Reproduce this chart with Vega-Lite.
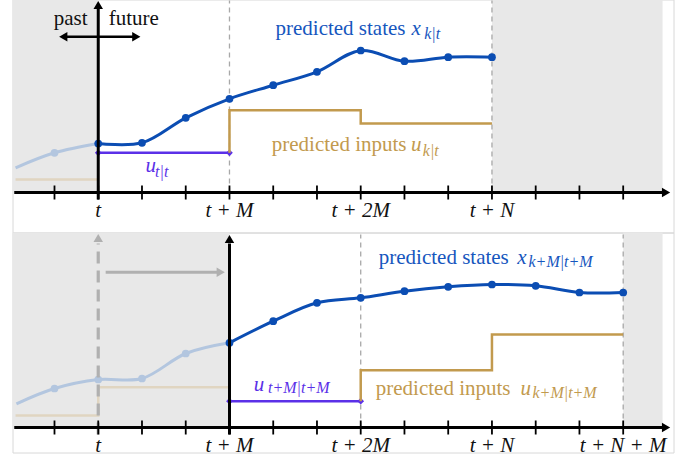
{
  "$schema": "https://vega.github.io/schema/vega-lite/v6.json",
  "padding": {"left": 8.5, "top": -1.5, "right": 0, "bottom": 0},
  "background": "white",
  "spacing": 0,
  "bounds": "flush",
  "config": {"view": {"stroke": "#d8d8d8", "strokeWidth": 1}, "axis": {"disable": true}},
  "resolve": {"scale": {"x": "independent", "y": "independent"}},
  "datasets": {
    "labTop": [
      {"x": -0.633, "y": 167.3, "text": "past", "kind": "rc", "role": "axis"},
      {"x": 0.814, "y": 167.3, "text": "future", "kind": "rc", "role": "axis"},
      {"x": 7.024, "y": 158, "text": "predicted states", "kind": "rr", "role": "state"},
      {"x": 7.16, "y": 158, "text": "x", "kind": "m", "role": "state"},
      {"x": 7.45, "y": 153.7, "text": "k|t", "kind": "s", "role": "state"},
      {"x": 7.047, "y": 41.3, "text": "predicted inputs", "kind": "rr", "role": "input"},
      {"x": 7.15, "y": 41.3, "text": "u", "kind": "m", "role": "input"},
      {"x": 7.42, "y": 37, "text": "k|t", "kind": "s", "role": "input"},
      {"x": 1.081, "y": 20.7, "text": "u", "kind": "m", "role": "control"},
      {"x": 1.3, "y": 15.7, "text": "t|t", "kind": "s", "role": "control"},
      {"x": 0, "y": -24, "text": "t", "kind": "tk", "role": "axis"},
      {"x": 3, "y": -24, "text": "t + M", "kind": "tk", "role": "axis"},
      {"x": 6, "y": -24, "text": "t + 2M", "kind": "tk", "role": "axis"},
      {"x": 9, "y": -24, "text": "t + N", "kind": "tk", "role": "axis"}
    ],
    "labBot": [
      {"x": 9.385, "y": 163.7, "text": "predicted states", "kind": "rr", "role": "state"},
      {"x": 9.577, "y": 163.7, "text": "x", "kind": "m", "role": "state"},
      {"x": 9.835, "y": 160.3, "text": "k+M|t+M", "kind": "s", "role": "state"},
      {"x": 9.424, "y": 33, "text": "predicted inputs", "kind": "rr", "role": "input"},
      {"x": 9.653, "y": 33, "text": "u", "kind": "m", "role": "input"},
      {"x": 9.927, "y": 29.7, "text": "k+M|t+M", "kind": "s", "role": "input"},
      {"x": 3.557, "y": 36.3, "text": "u", "kind": "m", "role": "control"},
      {"x": 3.88, "y": 34.5, "text": "t+M|t+M", "kind": "s", "role": "control"},
      {"x": 0, "y": -24, "text": "t", "kind": "tk", "role": "axis"},
      {"x": 3, "y": -24, "text": "t + M", "kind": "tk", "role": "axis"},
      {"x": 6, "y": -24, "text": "t + 2M", "kind": "tk", "role": "axis"},
      {"x": 9, "y": -24, "text": "t + N", "kind": "tk", "role": "axis"},
      {"x": 12, "y": -24, "text": "t + N + M", "kind": "tk", "role": "axis"}
    ],
    "ticks": [
      {"x": -1, "y": -7, "y2": 7}, {"x": 0, "y": -7, "y2": 7}, {"x": 1, "y": -7, "y2": 7},
      {"x": 2, "y": -7, "y2": 7}, {"x": 3, "y": -7, "y2": 7}, {"x": 4, "y": -7, "y2": 7},
      {"x": 5, "y": -7, "y2": 7}, {"x": 6, "y": -7, "y2": 7}, {"x": 7, "y": -7, "y2": 7},
      {"x": 8, "y": -7, "y2": 7}, {"x": 9, "y": -7, "y2": 7}, {"x": 10, "y": -7, "y2": 7},
      {"x": 11, "y": -7, "y2": 7}, {"x": 12, "y": -7, "y2": 7}
    ]
  },
  "vconcat": [
    {
      "width": 661,
      "height": 233,
      "encoding": {
        "x": {"field": "x", "type": "quantitative", "scale": {"domain": [-1.96, 13.15], "nice": false, "zero": false}},
        "y": {"field": "y", "type": "quantitative", "scale": {"domain": [-40, 193], "nice": false, "zero": false}}
      },
      "layer": [
        {"data": {"values": [{"x": -1.96, "x2": 0, "y": 0, "y2": 193}, {"x": 9, "x2": 12.9, "y": 0, "y2": 193}]},
         "mark": {"type": "rect", "color": "#e8e8e8"},
         "encoding": {"x2": {"field": "x2"}, "y2": {"field": "y2"}}},
        {"data": {"values": [{"x": 3, "y": 0, "y2": 192}, {"x": 9, "y": 0, "y2": 192}]},
         "mark": {"type": "rule", "color": "#a8a8a8", "strokeWidth": 1.3, "strokeDash": [5, 4]},
         "encoding": {"y2": {"field": "y2"}}},
        {"data": {"values": [{"x": -1.89, "y": 13}, {"x": 0, "y": 13}]},
         "mark": {"type": "line", "color": "#e0d5c1", "strokeWidth": 2.5},
         "encoding": {}},
        {"data": {"values": [{"x": -1.89, "y": 24.7}, {"x": -1, "y": 39.7}, {"x": 0, "y": 49}]},
         "mark": {"type": "line", "color": "#b3c6df", "strokeWidth": 3, "interpolate": "catmull-rom"},
         "encoding": {}},
        {"data": {"values": [{"x": -1, "y": 39.7}]},
         "mark": {"type": "point", "filled": true, "size": 60, "color": "#b3c6df", "opacity": 1},
         "encoding": {}},
        {"data": {"values": [{"x": 0, "y": 39.7}, {"x": 3, "y": 39.7}]},
         "mark": {"type": "line", "color": "#5b30e8", "strokeWidth": 2.5,
                  "point": {"shape": "diamond", "filled": true, "size": 45, "color": "#5b30e8", "opacity": 1}},
         "encoding": {}},
        {"data": {"values": [{"i": 0, "x": 3, "y": 39.7}, {"i": 1, "x": 3, "y": 82.3}, {"i": 2, "x": 6, "y": 82.3}, {"i": 3, "x": 6, "y": 69}, {"i": 4, "x": 9, "y": 69}]},
         "mark": {"type": "line", "color": "#c29a4e", "strokeWidth": 2.5},
         "encoding": {"order": {"field": "i", "type": "quantitative"}}},
        {"data": {"values": [{"x": 0, "y": 49}, {"x": 1, "y": 49.7}, {"x": 2, "y": 74.7}, {"x": 3, "y": 93.7}, {"x": 4, "y": 107.3}, {"x": 5, "y": 120.7}, {"x": 6, "y": 142}, {"x": 7, "y": 131.3}, {"x": 8, "y": 135.3}, {"x": 9, "y": 135.3}]},
         "mark": {"type": "line", "color": "#0b4db3", "strokeWidth": 3, "interpolate": "catmull-rom",
                  "point": {"filled": true, "size": 60, "color": "#0b4db3", "opacity": 1}},
         "encoding": {}},
        {"data": {"values": [{"x": -1.92, "x2": 12.95, "y": 0}]},
         "mark": {"type": "rule", "color": "#000000", "strokeWidth": 3},
         "encoding": {"x2": {"field": "x2"}}},
        {"data": {"name": "ticks"},
         "mark": {"type": "rule", "color": "#000000", "strokeWidth": 1.8},
         "encoding": {"y2": {"field": "y2"}}},
        {"data": {"values": [{"x": 0, "y": -7, "y2": 185}]},
         "mark": {"type": "rule", "color": "#000000", "strokeWidth": 3},
         "encoding": {"y2": {"field": "y2"}}},
        {"data": {"values": [{"x": -0.8, "x2": 0.87, "y": 155.7}]},
         "mark": {"type": "rule", "color": "#000000", "strokeWidth": 2.5},
         "encoding": {"x2": {"field": "x2"}}},
        {"data": {"values": [{"x": 12.98, "y": 0}, {"x": 0.87, "y": 155.7}]},
         "mark": {"type": "point", "shape": "triangle-right", "filled": true, "size": 90, "color": "#000000", "opacity": 1},
         "encoding": {}},
        {"data": {"values": [{"x": -0.8, "y": 155.7}]},
         "mark": {"type": "point", "shape": "triangle-left", "filled": true, "size": 90, "color": "#000000", "opacity": 1},
         "encoding": {}},
        {"data": {"values": [{"x": 0, "y": 187.5}]},
         "mark": {"type": "point", "shape": "triangle-up", "filled": true, "size": 90, "color": "#000000", "opacity": 1},
         "encoding": {}},
        {"data": {"name": "labTop"}, "transform": [{"filter": "datum.kind === 'rc'"}],
         "mark": {"type": "text", "font": "Times New Roman, serif", "fontSize": 21, "align": "center", "baseline": "alphabetic"},
         "encoding": {"text": {"field": "text"}, "color": {"field": "role", "type": "nominal", "scale": {"domain": ["axis", "state", "input", "control"], "range": ["#111111", "#1656be", "#c29a4e", "#5b30e8"]}, "legend": null}}},
        {"data": {"name": "labTop"}, "transform": [{"filter": "datum.kind === 'rr'"}],
         "mark": {"type": "text", "font": "Times New Roman, serif", "fontSize": 21, "align": "right", "baseline": "alphabetic"},
         "encoding": {"text": {"field": "text"}, "color": {"field": "role", "type": "nominal", "legend": null}}},
        {"data": {"name": "labTop"}, "transform": [{"filter": "datum.kind === 'm'"}],
         "mark": {"type": "text", "font": "Times New Roman, serif", "fontStyle": "italic", "fontSize": 21, "align": "left", "baseline": "alphabetic"},
         "encoding": {"text": {"field": "text"}, "color": {"field": "role", "type": "nominal", "legend": null}}},
        {"data": {"name": "labTop"}, "transform": [{"filter": "datum.kind === 's'"}],
         "mark": {"type": "text", "font": "Times New Roman, serif", "fontStyle": "italic", "fontSize": 16, "align": "left", "baseline": "alphabetic"},
         "encoding": {"text": {"field": "text"}, "color": {"field": "role", "type": "nominal", "legend": null}}},
        {"data": {"name": "labTop"}, "transform": [{"filter": "datum.kind === 'tk'"}],
         "mark": {"type": "text", "font": "Times New Roman, serif", "fontStyle": "italic", "fontSize": 21, "align": "center", "baseline": "alphabetic"},
         "encoding": {"text": {"field": "text"}, "color": {"field": "role", "type": "nominal", "legend": null}}}
      ]
    },
    {
      "width": 661,
      "height": 220,
      "encoding": {
        "x": {"field": "x", "type": "quantitative", "scale": {"domain": [-1.96, 13.15], "nice": false, "zero": false}},
        "y": {"field": "y", "type": "quantitative", "scale": {"domain": [-25, 195], "nice": false, "zero": false}}
      },
      "layer": [
        {"data": {"values": [{"x": -1.96, "x2": 3, "y": 0, "y2": 195}, {"x": 12, "x2": 12.9, "y": 0, "y2": 195}]},
         "mark": {"type": "rect", "color": "#e8e8e8"},
         "encoding": {"x2": {"field": "x2"}, "y2": {"field": "y2"}}},
        {"data": {"values": [{"x": 6, "y": 0, "y2": 193}, {"x": 12, "y": 0, "y2": 193}]},
         "mark": {"type": "rule", "color": "#a8a8a8", "strokeWidth": 1.3, "strokeDash": [5, 4]},
         "encoding": {"y2": {"field": "y2"}}},
        {"data": {"values": [{"i": 0, "x": -1.89, "y": 12}, {"i": 1, "x": 0, "y": 12}, {"i": 2, "x": 0, "y": 40.3}, {"i": 3, "x": 3, "y": 40.3}]},
         "mark": {"type": "line", "color": "#e0d5c1", "strokeWidth": 2.5},
         "encoding": {"order": {"field": "i", "type": "quantitative"}}},
        {"data": {"values": [{"x": -1.87, "y": 23.7}, {"x": -1, "y": 39}, {"x": 0, "y": 48}, {"x": 1, "y": 49}, {"x": 2, "y": 74}, {"x": 3, "y": 84.7}]},
         "mark": {"type": "line", "color": "#b3c6df", "strokeWidth": 3, "interpolate": "catmull-rom"},
         "encoding": {}},
        {"data": {"values": [{"x": -1, "y": 39}, {"x": 0, "y": 48}, {"x": 1, "y": 49}, {"x": 2, "y": 74}]},
         "mark": {"type": "point", "filled": true, "size": 60, "color": "#b3c6df", "opacity": 1},
         "encoding": {}},
        {"data": {"values": [{"x": 0, "y": -7, "y2": 184}]},
         "mark": {"type": "rule", "color": "#b0b0b0", "strokeWidth": 3.2, "strokeDash": [12, 7]},
         "encoding": {"y2": {"field": "y2"}}},
        {"data": {"values": [{"x": 0, "y": 189.5}]},
         "mark": {"type": "point", "shape": "triangle-up", "filled": true, "size": 90, "color": "#b0b0b0", "opacity": 1},
         "encoding": {}},
        {"data": {"values": [{"x": 0.17, "x2": 2.72, "y": 155.3}]},
         "mark": {"type": "rule", "color": "#b0b0b0", "strokeWidth": 3},
         "encoding": {"x2": {"field": "x2"}}},
        {"data": {"values": [{"x": 2.8, "y": 155.3}]},
         "mark": {"type": "point", "shape": "triangle-right", "filled": true, "size": 90, "color": "#b0b0b0", "opacity": 1},
         "encoding": {}},
        {"data": {"values": [{"x": 3, "y": 26.3}, {"x": 6, "y": 26.3}]},
         "mark": {"type": "line", "color": "#5b30e8", "strokeWidth": 2.5,
                  "point": {"shape": "diamond", "filled": true, "size": 45, "color": "#5b30e8", "opacity": 1}},
         "encoding": {}},
        {"data": {"values": [{"i": 0, "x": 6, "y": 26.3}, {"i": 1, "x": 6, "y": 57.3}, {"i": 2, "x": 9, "y": 57.3}, {"i": 3, "x": 9, "y": 93}, {"i": 4, "x": 12, "y": 93}]},
         "mark": {"type": "line", "color": "#c29a4e", "strokeWidth": 2.5},
         "encoding": {"order": {"field": "i", "type": "quantitative"}}},
        {"data": {"values": [{"x": 3, "y": 84.7}, {"x": 4, "y": 106.3}, {"x": 5, "y": 124.7}, {"x": 6, "y": 129.7}, {"x": 7, "y": 136.3}, {"x": 8, "y": 140.7}, {"x": 9, "y": 143}, {"x": 10, "y": 141.7}, {"x": 11, "y": 135}, {"x": 12, "y": 135}]},
         "mark": {"type": "line", "color": "#0b4db3", "strokeWidth": 3, "interpolate": "catmull-rom",
                  "point": {"filled": true, "size": 60, "color": "#0b4db3", "opacity": 1}},
         "encoding": {}},
        {"data": {"values": [{"x": -1.92, "x2": 12.95, "y": 0}]},
         "mark": {"type": "rule", "color": "#000000", "strokeWidth": 3},
         "encoding": {"x2": {"field": "x2"}}},
        {"data": {"name": "ticks"},
         "mark": {"type": "rule", "color": "#000000", "strokeWidth": 1.8},
         "encoding": {"y2": {"field": "y2"}}},
        {"data": {"values": [{"x": 3, "y": -7, "y2": 184}]},
         "mark": {"type": "rule", "color": "#000000", "strokeWidth": 3},
         "encoding": {"y2": {"field": "y2"}}},
        {"data": {"values": [{"x": 12.98, "y": 0}]},
         "mark": {"type": "point", "shape": "triangle-right", "filled": true, "size": 90, "color": "#000000", "opacity": 1},
         "encoding": {}},
        {"data": {"values": [{"x": 3, "y": 188.5}]},
         "mark": {"type": "point", "shape": "triangle-up", "filled": true, "size": 90, "color": "#000000", "opacity": 1},
         "encoding": {}},
        {"data": {"name": "labBot"}, "transform": [{"filter": "datum.kind === 'rr'"}],
         "mark": {"type": "text", "font": "Times New Roman, serif", "fontSize": 21, "align": "right", "baseline": "alphabetic"},
         "encoding": {"text": {"field": "text"}, "color": {"field": "role", "type": "nominal", "scale": {"domain": ["axis", "state", "input", "control"], "range": ["#111111", "#1656be", "#c29a4e", "#5b30e8"]}, "legend": null}}},
        {"data": {"name": "labBot"}, "transform": [{"filter": "datum.kind === 'm'"}],
         "mark": {"type": "text", "font": "Times New Roman, serif", "fontStyle": "italic", "fontSize": 21, "align": "left", "baseline": "alphabetic"},
         "encoding": {"text": {"field": "text"}, "color": {"field": "role", "type": "nominal", "legend": null}}},
        {"data": {"name": "labBot"}, "transform": [{"filter": "datum.kind === 's'"}],
         "mark": {"type": "text", "font": "Times New Roman, serif", "fontStyle": "italic", "fontSize": 16, "align": "left", "baseline": "alphabetic"},
         "encoding": {"text": {"field": "text"}, "color": {"field": "role", "type": "nominal", "legend": null}}},
        {"data": {"name": "labBot"}, "transform": [{"filter": "datum.kind === 'tk'"}],
         "mark": {"type": "text", "font": "Times New Roman, serif", "fontStyle": "italic", "fontSize": 21, "align": "center", "baseline": "alphabetic"},
         "encoding": {"text": {"field": "text"}, "color": {"field": "role", "type": "nominal", "legend": null}}}
      ]
    }
  ]
}
